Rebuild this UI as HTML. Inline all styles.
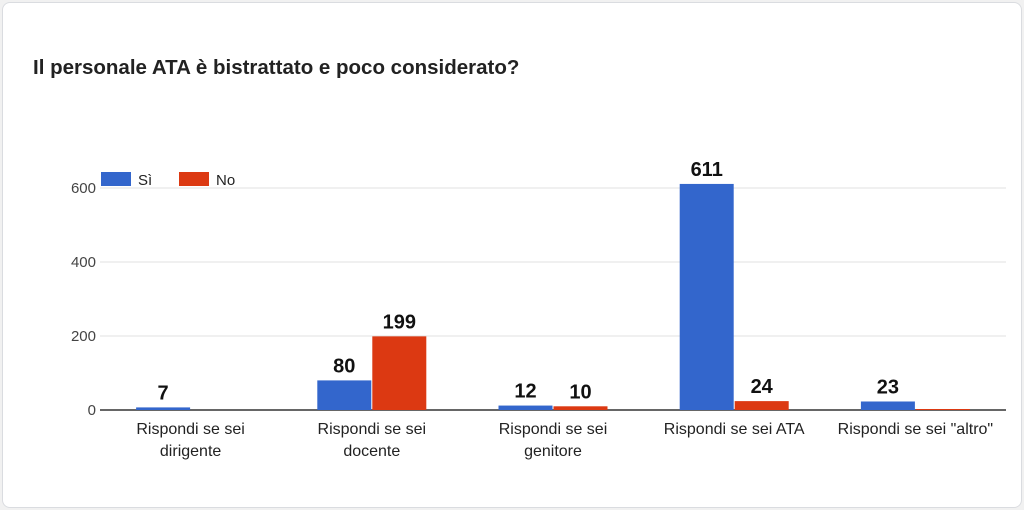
<!DOCTYPE html>
<html><head><meta charset="utf-8"><style>
body{margin:0;background:#f1f1f1;font-family:"Liberation Sans",sans-serif;}
#card{position:absolute;left:2px;top:2px;width:1018px;height:504px;background:#fff;border:1px solid #dadce0;border-radius:8px;}
</style></head><body>
<div id="card"></div>
<svg id="chart" width="1024" height="510" style="position:absolute;left:0;top:0">
<text x="33" y="74" font-size="20.5" font-weight="bold" fill="#222">Il personale ATA è bistrattato e poco considerato?</text>
<g>
<rect x="101" y="172" width="30" height="14" fill="#3366cc"></rect>
<text x="138" y="185" font-size="15" fill="#222">Sì</text>
<rect x="179" y="172" width="30" height="14" fill="#dc3912"></rect>
<text x="216" y="185" font-size="15" fill="#222">No</text>
</g>
</svg>
<script>
const categories=[["Rispondi se sei","dirigente"],["Rispondi se sei","docente"],["Rispondi se sei","genitore"],["Rispondi se sei ATA"],["Rispondi se sei \"altro\""]];
const siValues=[7,80,12,611,23];
const noValues=[0,199,10,24,2];
const yTicks=[0,200,400,600];
const svg=document.getElementById('chart');const NS='http://www.w3.org/2000/svg';
const x0=100,x1=1006,yBase=410,yTop=188,yMax=600;
const y=v=>yBase-(v/yMax)*(yBase-yTop);
const step=(x1-x0)/categories.length;
const cx=i=>x0+step*(i+0.5);
const bw=54;
function mk(t,a){const e=document.createElementNS(NS,t);for(const k in a)e.setAttribute(k,a[k]);svg.appendChild(e);return e;}
yTicks.forEach(t=>{
 const l=mk('line',{x1:x0,x2:x1,y1:y(t),y2:y(t),stroke:t===0?'#333':'#e0e0e0','stroke-width':t===0?1.5:1});
 
 
 const tx=mk('text',{x:96,y:y(t)+5,'font-size':15,fill:'#444','text-anchor':'end'});tx.textContent=t;
 
 
});
categories.forEach((c,i)=>{
 [[siValues[i],'#3366cc',-1,'bar-si'],[noValues[i],'#dc3912',1,'bar-no']].forEach(([v,col,s,n])=>{
  const bx=s<0?cx(i)-bw-0.5:cx(i)+0.5;
  const h=Math.max(yBase-y(v),v>0?1:0);
  if(v>0){const r=mk('rect',{x:bx,y:yBase-h,width:bw,height:h,fill:col});
  
  }
  if(v>=5){const t=mk('text',{x:bx+bw/2,y:yBase-h-8,'font-size':20,'font-weight':'bold',fill:'#111','text-anchor':'middle'});t.textContent=v;
  
  }
 });
 c.forEach((ln,j)=>{const t=mk('text',{x:cx(i),y:434+j*22,'font-size':16,fill:'#222','text-anchor':'middle'});t.textContent=ln;
 
 });
});
</script>
</body></html>
